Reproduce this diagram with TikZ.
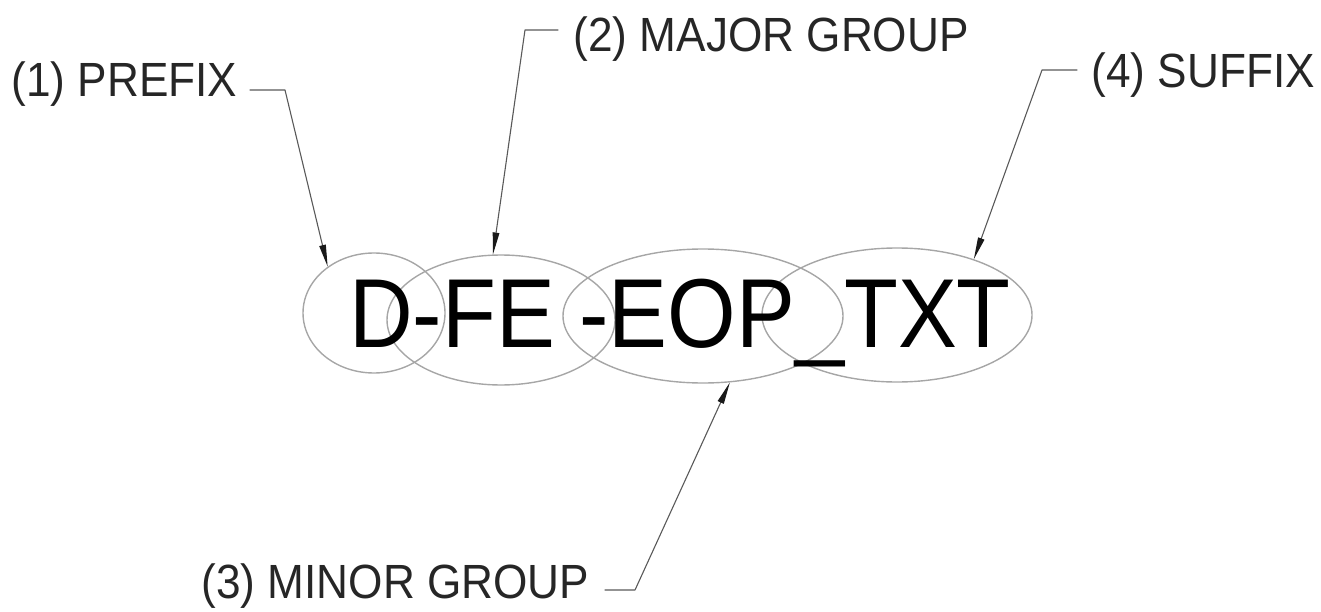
\documentclass[tikz,border=0pt]{standalone}
\usepackage{fontspec}
\usetikzlibrary{shapes.geometric,arrows.meta}
\newfontfamily\namefont[FakeStretch=0.9]{Liberation Sans}
\newfontfamily\labelfont[FakeStretch=0.92]{Liberation Sans}
\begin{document}
\begin{tikzpicture}[x=1pt,y=-1pt,line width=1.4pt,line cap=round,line join=round,
  >={Triangle[length=22pt,width=6.5pt,color=black!90]},
  ring/.style={draw=black!35,ellipse,inner sep=0pt},
  tag/.style={inner sep=0pt,anchor=base west,text=black!85,
    font=\labelfont\fontsize{48}{50}\selectfont},
  leader/.style={draw=black!65,line width=1.1pt}]
  \useasboundingbox (0,0) rectangle (1321,612);
  \node[ring,minimum width=142pt,minimum height=120pt] (prefix) at (374,313) {};
  \node[ring,minimum width=228pt,minimum height=130pt] (major) at (501,320) {};
  \node[ring,minimum width=280pt,minimum height=134pt] (minor) at (703,316) {};
  \node[ring,minimum width=270pt,minimum height=134pt] (suffix) at (897,315) {};
  \node[inner sep=0pt,anchor=base,font=\namefont\fontsize{98}{100}\selectfont]
    (name) at (680,347) {D-FE -EOP\_TXT};
  \node[tag] (tprefix) at (11,97) {(1) PREFIX};
  \node[tag] (tmajor) at (573,52) {(2) MAJOR GROUP};
  \node[tag] (tminor) at (201,598) {(3) MINOR GROUP};
  \node[tag] (tsuffix) at (1091,88) {(4) SUFFIX};
  \coordinate (sprefix) at (250,90);  \coordinate (kprefix) at (285,90);
  \coordinate (smajor) at (558,30);   \coordinate (kmajor) at (525,30);
  \coordinate (sminor) at (605,590);  \coordinate (kminor) at (635,590);
  \coordinate (ssuffix) at (1077,70); \coordinate (ksuffix) at (1042,70);
  \draw[leader,->] (sprefix) -- (kprefix) -- (prefix.135);
  \draw[leader,->] (smajor) -- (kmajor) -- (major.97);
  \draw[leader,->] (sminor) -- (kminor) -- (minor.-68);
  \draw[leader,->] (ssuffix) -- (ksuffix) -- (suffix.36);
\end{tikzpicture}
\end{document}
